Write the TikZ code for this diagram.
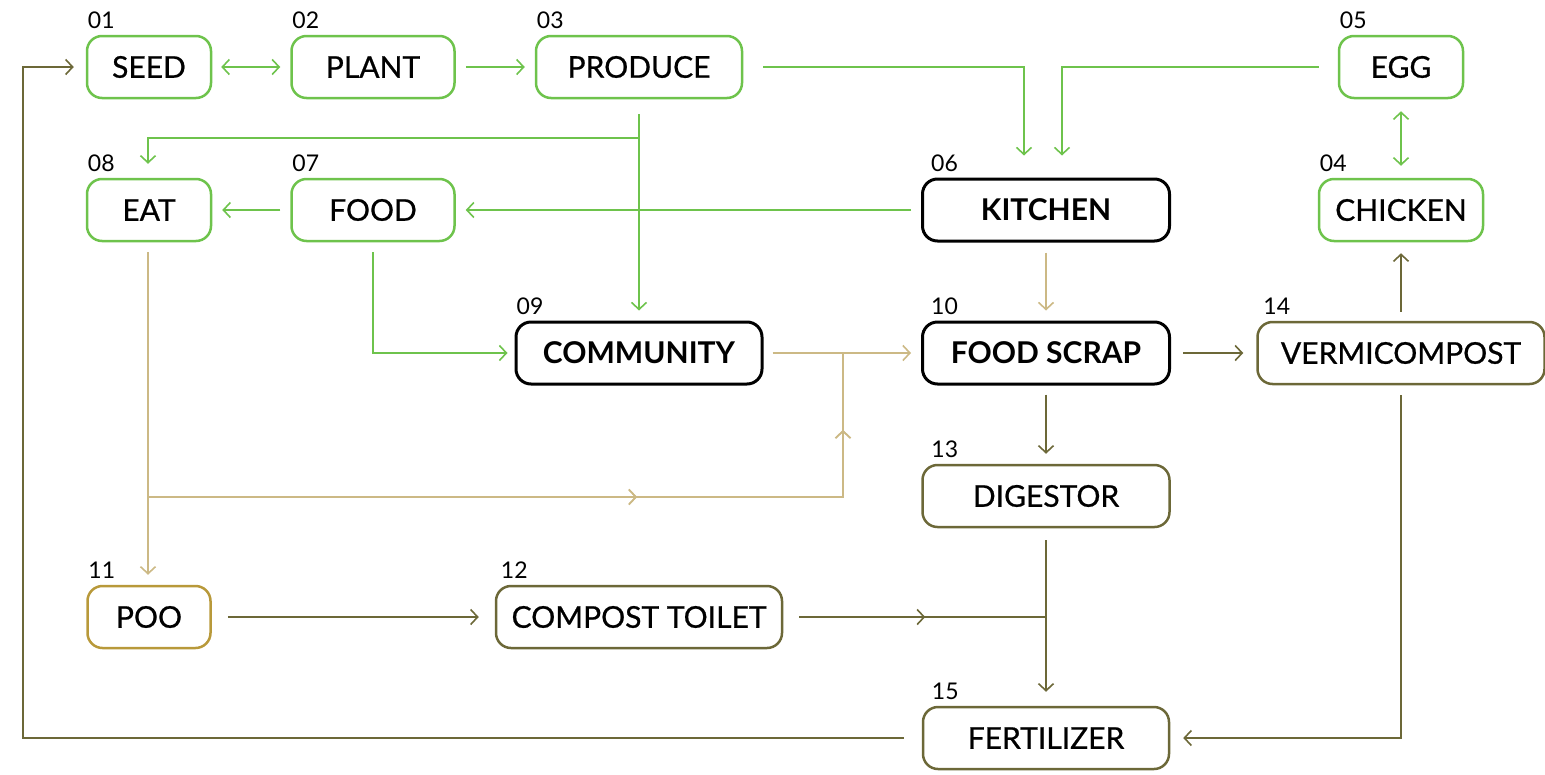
\documentclass[tikz,border=0pt]{standalone}
\usepackage{fontspec}
\setmainfont{Lato}
\newfontfamily\medfont{Lato}[FakeBold=0.7]
\usetikzlibrary{arrows.meta,decorations.markings}
\definecolor{grn}{RGB}{110,195,76}
\definecolor{tanc}{RGB}{204,185,133}
\definecolor{olv}{RGB}{108,104,56}
\definecolor{gld}{RGB}{184,153,58}
\begin{document}
\begin{tikzpicture}[x=1pt,y=-1pt,
  >={Straight Barb[length=7pt,width=15pt]},
  box/.style={draw=#1, rounded corners=15pt, line width=2.5pt, minimum height=62pt,
    inner sep=0pt, text=black, font=\fontsize{30}{32}\medfont},
  hbox/.style={box=black, line width=3pt, font=\fontsize{30}{32}\selectfont\bfseries},
  numlab/.style={anchor=south west, inner sep=0pt, yshift=6pt, xshift=2pt,
    font=\fontsize{23}{23}\selectfont, text=black},
  gl/.style={draw=grn, line width=1.6pt},
  tl/.style={draw=tanc, line width=1.6pt},
  ol/.style={draw=olv, line width=1.6pt},
  midtip/.style={postaction={decorate}, decoration={markings, mark=at position #1 with {\arrow{>}}}}
]
\useasboundingbox (0,0) rectangle (1545,774);
% nodes
\node[box=grn, minimum width=124pt, label={[numlab]north west:01}] (seed) at (149,67) {SEED};
\node[box=grn, minimum width=163pt, label={[numlab]north west:02}] (plant) at (373,67) {PLANT};
\node[box=grn, minimum width=206pt, label={[numlab]north west:03}] (produce) at (639,67) {PRODUCE};
\node[box=grn, minimum width=124pt, label={[numlab]north west:05}] (egg) at (1401,67) {EGG};
\node[box=grn, minimum width=164pt, label={[numlab]north west:04}] (chicken) at (1401,210) {CHICKEN};
\node[box=grn, minimum width=124pt, label={[numlab]north west:08}] (eat) at (149,210) {EAT};
\node[box=grn, minimum width=163pt, label={[numlab]north west:07}] (food) at (373,210) {FOOD};
\node[hbox, minimum width=247pt, label={[numlab,xshift=8pt]north west:06}] (kitchen) at (1046,210) {KITCHEN};
\node[hbox, minimum width=246pt, label={[numlab]north west:09}] (community) at (639,353) {COMMUNITY};
\node[hbox, minimum width=247pt, label={[numlab,xshift=8pt]north west:10}] (scrap) at (1046,353) {FOOD SCRAP};
\node[box=olv, minimum width=287pt, label={[numlab,xshift=5pt]north west:14}] (vermi) at (1401,353) {VERMICOMPOST};
\node[box=olv, minimum width=247pt, label={[numlab,xshift=8pt]north west:13}] (digestor) at (1046,496) {DIGESTOR};
\node[box=gld, minimum width=123pt, label={[numlab]north west:11}] (poo) at (149,617) {POO};
\node[box=olv, minimum width=286pt, label={[numlab,xshift=4pt]north west:12}] (toilet) at (639,617) {COMPOST TOILET};
\node[box=olv, minimum width=246pt, label={[numlab,xshift=8pt]north west:15}] (fert) at (1046,738) {FERTILIZER};
% junctions
\coordinate (pj) at (639,138);
\coordinate (ej) at (148,497);
\coordinate (bj) at (843,497);
\coordinate (cj) at (843,353);
\coordinate (fj) at (1046,617);
\coordinate (lc) at (23,738);
% green
\draw[gl,<->] ([xshift=9pt]seed.east) -- ([xshift=-10pt]plant.west);
\draw[gl,->] ([xshift=10pt]plant.east) -- ([xshift=-10pt]produce.west);
\draw[gl,->] ([xshift=20pt]produce.east) -| ([xshift=-22pt,yshift=22pt]kitchen.north);
\draw[gl,->] ([xshift=-19pt]egg.west) -| ([xshift=16pt,yshift=22pt]kitchen.north);
\draw[gl,<->] ([yshift=-12pt]egg.south) -- ([yshift=12pt]chicken.north);
\draw[gl] ([yshift=-15pt]produce.south) -- (pj);
\draw[gl,->] (pj) -- ([yshift=10pt]community.north);
\draw[gl,->] (pj) -| ([xshift=-1pt,yshift=14pt]eat.north);
\draw[gl,->] ([xshift=-10pt]kitchen.west) -- ([xshift=10pt]food.east);
\draw[gl,->] ([xshift=-10pt]food.west) -- ([xshift=10pt]eat.east);
\draw[gl,->] ([yshift=-10pt]food.south) |- ([xshift=-7pt]community.west);
% tan
\draw[tl] ([xshift=-1pt,yshift=-10pt]eat.south) -- (ej);
\draw[tl,->] (ej) -- ([xshift=-1pt,yshift=10pt]poo.north);
\draw[tl,midtip=489pt,midtip=762pt] (ej) -- (bj) -- (cj);
\draw[tl,->] ([xshift=9pt]community.east) -- ([xshift=-10pt]scrap.west);
\draw[tl,->] ([yshift=-10pt]kitchen.south) -- ([yshift=10pt]scrap.north);
% olive
\draw[ol,->] ([xshift=12pt]scrap.east) -- ([xshift=-13pt]vermi.west);
\draw[ol,->] ([yshift=9pt]vermi.north) -- ([yshift=-11pt]chicken.south);
\draw[ol,->] ([yshift=-9pt]scrap.south) -- ([yshift=10pt]digestor.north);
\draw[ol,->] ([yshift=-12pt]digestor.south) -- ([yshift=14pt]fert.north);
\draw[ol,midtip=126pt] ([xshift=16pt]toilet.east) -- (fj);
\draw[ol,->] ([xshift=16pt]poo.east) -- ([xshift=-16pt]toilet.west);
\draw[ol,->] ([yshift=-10pt]vermi.south) |- ([xshift=13pt]fert.east);
\draw[ol,->] ([xshift=-18pt]fert.west) -- (lc) |- ([xshift=-12pt]seed.west);
\end{tikzpicture}
\end{document}
